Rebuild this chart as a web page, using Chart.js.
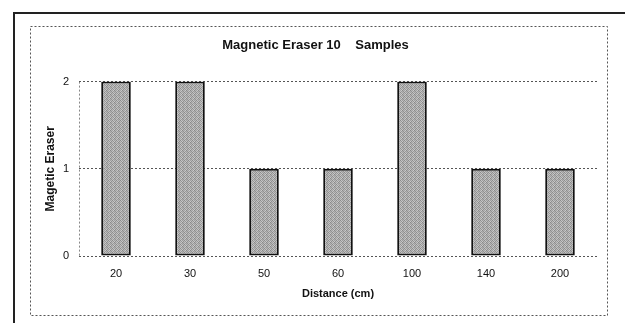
<!DOCTYPE html>
<html>
<head>
<meta charset="utf-8">
<script src="https://cdn.jsdelivr.net/npm/chart.js@4.4.1/dist/chart.umd.min.js"></script>
<style>
    html, body { margin: 0; padding: 0; background: #fff; }
    #wrap { width: 625px; height: 323px; }
</style>
</head>
<body>
<div id="wrap"><canvas id="eraser-chart" width="625" height="323"></canvas></div>
<script>
// Distances tested and how many erasers landed at each
const distances = ['20', '30', '50', '60', '100', '140', '200'];
const eraserCounts = [2, 2, 1, 1, 2, 1, 1];
const yTicks = [0, 1, 2];

// Grey stipple fill for the bars (fixed dither, no randomness)
function makeStipple() {
    const c = document.createElement('canvas');
    c.width = 4;
    c.height = 4;
    const g = c.getContext('2d');
    const shades = [
        '#8c8c8c', '#c4c4c4', '#9e9e9e', '#b8b8b8',
        '#bdbdbd', '#959595', '#c8c8c8', '#8f8f8f',
        '#a3a3a3', '#cacaca', '#888888', '#b4b4b4',
        '#c2c2c2', '#9a9a9a', '#b0b0b0', '#929292'
    ];
    shades.forEach((s, i) => {
        g.fillStyle = s;
        g.fillRect(i % 4, Math.floor(i / 4), 1, 1);
    });
    return g.createPattern(c, 'repeat');
}

// Frame lines around the whole figure
const framePlugin = {
    id: 'frame',
    beforeDraw(chart) {
        const ctx = chart.ctx;
        ctx.save();
        ctx.strokeStyle = '#222';
        ctx.lineWidth = 2;
        ctx.beginPath();
        ctx.moveTo(14, 323);
        ctx.lineTo(14, 13);
        ctx.lineTo(625, 13);
        ctx.stroke();

        ctx.strokeStyle = '#555';
        ctx.lineWidth = 1;
        ctx.setLineDash([2, 2]);
        ctx.strokeRect(30.5, 26.5, 577, 289);
        ctx.restore();
    }
};

const ctx = document.getElementById('eraser-chart').getContext('2d');

new Chart(ctx, {
    type: 'bar',
    data: {
        labels: distances,
        datasets: [{
            label: 'Magetic Eraser',
            data: eraserCounts,
            backgroundColor: makeStipple(),
            borderColor: '#111',
            borderWidth: 2,
            borderSkipped: false,
            categoryPercentage: 0.8,
            barPercentage: 0.5
        }]
    },
    options: {
        responsive: false,
        animation: false,
        devicePixelRatio: 1,
        layout: {
            padding: { left: 34, right: 28, top: 30, bottom: 18 }
        },
        plugins: {
            legend: { display: false },
            tooltip: { enabled: false },
            title: {
                display: true,
                text: 'Magnetic Eraser 10    Samples',
                color: '#111',
                font: { family: 'Liberation Sans', size: 13, weight: 'bold' },
                padding: { top: 8, bottom: 28 }
            }
        },
        scales: {
            x: {
                // only the left edge gets a (dotted) vertical line
                grid: {
                    drawTicks: false,
                    lineWidth: 1,
                    color: (c) => (c.index === 0 ? '#888' : 'rgba(0,0,0,0)')
                },
                border: { display: false, dash: [2, 2] },
                ticks: {
                    color: '#111',
                    padding: 11,
                    font: { family: 'Liberation Sans', size: 11 }
                },
                title: {
                    display: true,
                    text: 'Distance (cm)',
                    color: '#111',
                    font: { family: 'Liberation Sans', size: 11, weight: 'bold' },
                    padding: { top: 4, bottom: 4 }
                },
                afterFit(scale) { scale.height = 49; }
            },
            y: {
                min: 0,
                max: 2,
                afterBuildTicks(scale) {
                    scale.ticks = yTicks.map((v) => ({ value: v }));
                },
                grid: {
                    color: '#555',
                    drawTicks: false,
                    lineWidth: 1
                },
                border: { display: false, dash: [2, 2] },
                ticks: {
                    color: '#111',
                    padding: 10,
                    font: { family: 'Liberation Sans', size: 11 }
                },
                title: {
                    display: true,
                    text: 'Magetic Eraser',
                    color: '#111',
                    font: { family: 'Liberation Sans', size: 12, weight: 'bold' },
                    padding: { top: 9, bottom: 9 }
                },
                afterFit(scale) { scale.width = 45; }
            }
        }
    },
    plugins: [framePlugin]
});
</script>
</body>
</html>
